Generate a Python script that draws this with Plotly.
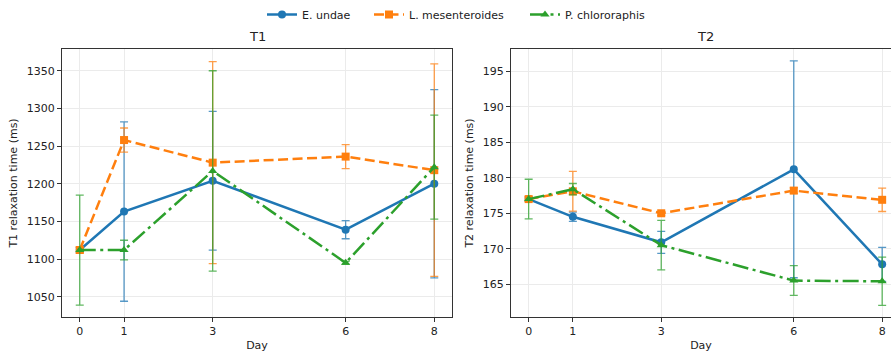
import plotly.graph_objects as go

days = [0, 1, 3, 6, 8]
species = ["E. undae", "L. mesenteroides", "P. chlororaphis"]

t1_mean = {
    "E. undae": [1112, 1163, 1204, 1139, 1200],
    "L. mesenteroides": [1112, 1258, 1228, 1236, 1218],
    "P. chlororaphis": [1112, 1112, 1217, 1095, 1222],
}
t1_err = {
    "E. undae": [3, 119, 92, 12, 125],
    "L. mesenteroides": [4, 16, 134, 16, 141],
    "P. chlororaphis": [73, 13, 133, 2, 69],
}
t2_mean = {
    "E. undae": [177.0, 174.5, 170.9, 181.2, 167.8],
    "L. mesenteroides": [177.0, 178.1, 175.0, 178.2, 176.9],
    "P. chlororaphis": [177.0, 178.4, 170.5, 165.5, 165.4],
}
t2_err = {
    "E. undae": [0.3, 0.65, 1.55, 15.3, 2.4],
    "L. mesenteroides": [0.3, 2.8, 0.3, 0.4, 1.65],
    "P. chlororaphis": [2.8, 0.8, 3.5, 2.1, 3.4],
}

colors = {"E. undae": "#1f77b4", "L. mesenteroides": "#ff7f0e", "P. chlororaphis": "#2ca02c"}
err_colors = {"E. undae": "rgba(31,119,180,0.75)", "L. mesenteroides": "rgba(255,127,14,0.75)",
              "P. chlororaphis": "rgba(44,160,44,0.75)"}
dashes = {"E. undae": "solid", "L. mesenteroides": "10px,4.5px", "P. chlororaphis": "16px,4.5px,3px,4.5px"}
symbols = {"E. undae": "circle", "L. mesenteroides": "square", "P. chlororaphis": "triangle-up"}
legend_ids = {"E. undae": "legend", "L. mesenteroides": "legend2", "P. chlororaphis": "legend3"}
legend_x = {"E. undae": 262, "L. mesenteroides": 369, "P. chlororaphis": 525}

FONT = "DejaVu Sans"
W, H = 891, 361
fig = go.Figure()

for panel, (means, errs) in enumerate([(t1_mean, t1_err), (t2_mean, t2_err)]):
    xa = "x" if panel == 0 else "x2"
    ya = "y" if panel == 0 else "y2"
    for s in species:
        fig.add_trace(go.Scatter(
            x=days, y=means[s], mode="lines+markers", name=s,
            xaxis=xa, yaxis=ya, showlegend=(panel == 0), legendgroup=s,
            legend=legend_ids[s],
            line=dict(color=colors[s], width=2.5, dash=dashes[s]),
            marker=dict(symbol=symbols[s], size=8, color=colors[s]),
            error_y=dict(type="data", array=errs[s], visible=True,
                         color=err_colors[s], thickness=1.3, width=4),
        ))

axis_common = dict(
    showline=True, linecolor="#333333", linewidth=1, mirror=True,
    showgrid=True, gridcolor="#ebebeb", gridwidth=1,
    ticks="outside", ticklen=4, tickcolor="#333333", zeroline=False,
    tickfont=dict(family=FONT, size=11, color="#222"),
)

legend_common = dict(orientation="h", y=1 - 14 / H, yanchor="middle", xanchor="left",
                     font=dict(family=FONT, size=11, color="#222"),
                     bgcolor="rgba(0,0,0,0)", itemwidth=30)

fig.update_layout(
    width=W, height=H,
    margin=dict(l=0, r=0, t=0, b=0),
    paper_bgcolor="white", plot_bgcolor="white",
    font=dict(family=FONT, size=11, color="#222"),
    xaxis=dict(domain=[0.0696, 0.5073], range=[-0.4, 8.4], tickvals=days,
               title=dict(text="Day", font=dict(size=11), standoff=4), anchor="y", **axis_common),
    yaxis=dict(domain=[0.122, 0.867], range=[1023, 1379], tickvals=[1050, 1100, 1150, 1200, 1250, 1300, 1350],
               title=dict(text="T1 relaxation time (ms)", font=dict(size=11), standoff=6), anchor="x", **axis_common),
    xaxis2=dict(domain=[0.5735, 1.0], range=[-0.4, 8.2], tickvals=days,
                title=dict(text="Day", font=dict(size=11), standoff=4), anchor="y2", **axis_common),
    yaxis2=dict(domain=[0.122, 0.867], range=[160.35, 198.2], tickvals=[165, 170, 175, 180, 185, 190, 195],
                title=dict(text="T2 relaxation time (ms)", font=dict(size=11), standoff=6), anchor="x2", **axis_common),
    legend=dict(x=legend_x["E. undae"] / W, **legend_common),
    legend2=dict(x=legend_x["L. mesenteroides"] / W, **legend_common),
    legend3=dict(x=legend_x["P. chlororaphis"] / W, **legend_common),
    annotations=[
        dict(text="T1", x=257 / W, y=0.867, xref="paper", yref="paper",
             yanchor="bottom", xanchor="center", showarrow=False, yshift=3,
             font=dict(family=FONT, size=13, color="#222")),
        dict(text="T2", x=705 / W, y=0.867, xref="paper", yref="paper",
             yanchor="bottom", xanchor="center", showarrow=False, yshift=3,
             font=dict(family=FONT, size=13, color="#222")),
    ],
)

fig.write_html("out.html")
